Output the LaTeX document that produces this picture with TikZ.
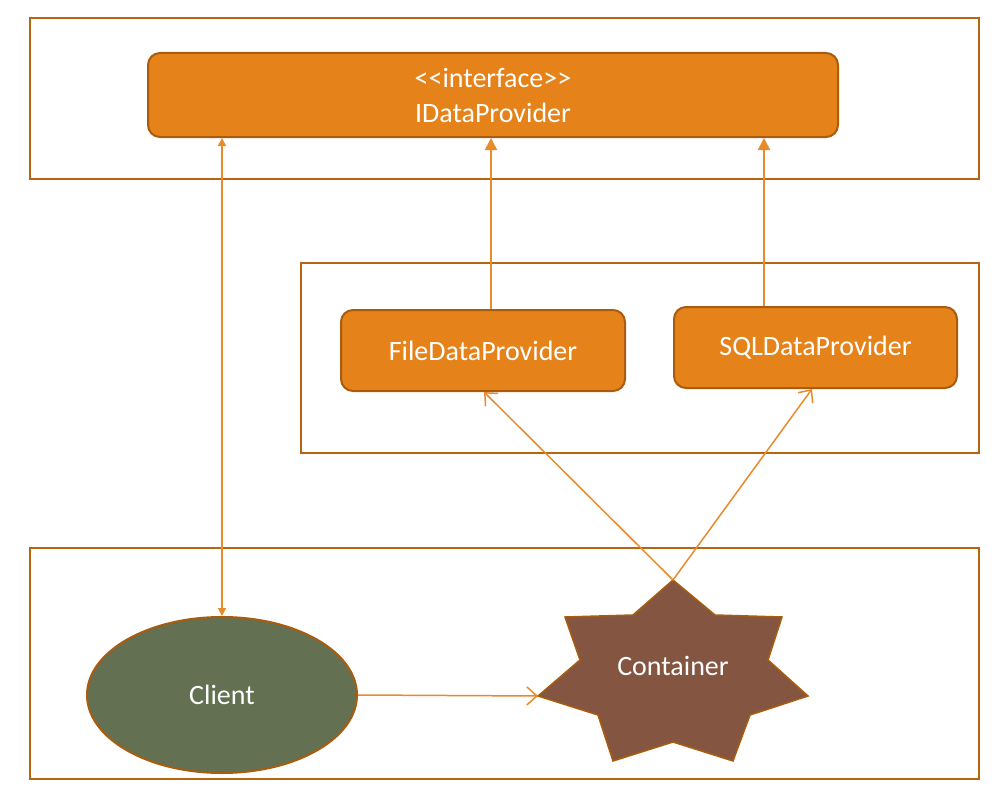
\documentclass[tikz,border=0pt]{standalone}
\usepackage{fontspec}
\setmainfont{Carlito}
\usetikzlibrary{arrows.meta,shapes.geometric}
\definecolor{framec}{HTML}{B8650F}
\definecolor{boxfill}{HTML}{E5821A}
\definecolor{boxline}{HTML}{A95C0E}
\definecolor{linec}{HTML}{E88B2A}
\definecolor{clientc}{HTML}{637051}
\definecolor{contc}{HTML}{845641}
\tikzset{
  frame/.style={draw=framec, line width=2pt, fill=none, inner sep=0pt},
  provbox/.style={draw=boxline, line width=2pt, fill=boxfill, rounded corners=12pt,
    text=white, font=\fontsize{28}{35}\selectfont, align=center, inner sep=0pt},
  conn/.style={draw=linec, line width=1.5pt},
  realize/.style={conn, -{Triangle[length=12pt,width=12pt]}},
  dbl/.style={conn, {Triangle[length=8pt,width=8pt]}-{Triangle[length=8pt,width=8pt]}},
  uses/.style={conn, -{Straight Barb[length=10pt,width=18pt,line width=1.5pt]}},
  lbl/.style={text=white, font=\fontsize{28}{35}\selectfont}
}
\begin{document}
\begin{tikzpicture}[x=1pt,y=-1pt]
\useasboundingbox (0,0) rectangle (997,800);
\fill[white] (0,0) rectangle (997,800);
% frames
\node[frame, minimum width=949pt, minimum height=161pt] (f1) at (504.5,98.5) {};
\node[frame, minimum width=678pt, minimum height=190pt] (f2) at (640,358) {};
\node[frame, minimum width=949pt, minimum height=231pt] (f3) at (504.5,663.5) {};
% boxes
\node[provbox, minimum width=690pt, minimum height=84pt] (idp) at (493,95) {<{}<interface>{}>\\IDataProvider};
\node[provbox, minimum width=284pt, minimum height=81pt] (fdp) at (483,350.5) {FileDataProvider};
\node[provbox, minimum width=283pt, minimum height=81pt] (sdp) at (815.5,347.5) {SQLDataProvider};
% client
\node[ellipse, draw=boxline, line width=2pt, fill=clientc, minimum width=270pt, minimum height=156pt, inner sep=0pt, lbl] (client) at (222,695) {Client};
% container star
\coordinate (ctop) at (673,580);
\coordinate (cleft) at (538,696);
\filldraw[fill=contc, draw=boxline, line width=1.5pt, line join=miter]
  (ctop) -- (715,615) -- (782,617) -- (768,660) -- (808,696) -- (750,715) -- (733,761)
  -- (673,742) -- (613,761) -- (598,715) -- (cleft) -- (580,660) -- (565,617) -- (633,615) -- cycle;
\node[lbl] (cont) at (673,666) {Container};
% connectors
\draw[dbl] (client.north |- idp.south) -- (client.north);
\draw[realize] ([xshift=8pt]fdp.north) -- ([xshift=8pt]fdp.north |- idp.south);
\draw[realize] ([xshift=-51.5pt]sdp.north) -- ([xshift=-51.5pt]sdp.north |- idp.south);
\draw[uses] (ctop) -- ([xshift=1pt]fdp.south);
\draw[uses] (ctop) -- ([xshift=-3.5pt]sdp.south);
\draw[uses] (client.east) -- (cleft);
\end{tikzpicture}
\end{document}
